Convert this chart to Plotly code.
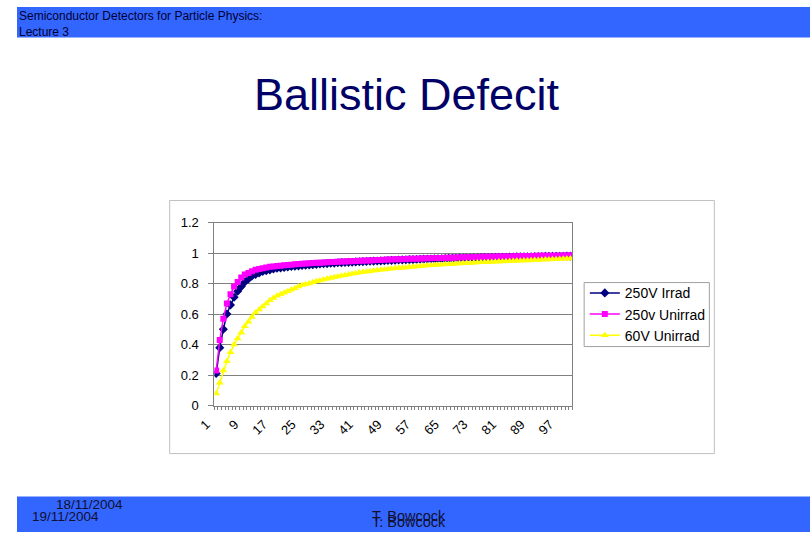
import plotly.graph_objects as go

categories = list(range(1, 101))

irrad_250v = [
    0.21, 0.38, 0.50, 0.60, 0.66, 0.71, 0.75, 0.78, 0.81, 0.83,
    0.85, 0.86, 0.87, 0.88, 0.885, 0.89, 0.895, 0.90, 0.903, 0.906,
    0.909, 0.912, 0.914, 0.916, 0.918, 0.920, 0.922, 0.924, 0.926, 0.928,
    0.930, 0.931, 0.933, 0.934, 0.936, 0.937, 0.938, 0.939, 0.940, 0.942,
    0.943, 0.944, 0.945, 0.946, 0.947, 0.948, 0.949, 0.950, 0.951, 0.952,
    0.953, 0.954, 0.955, 0.956, 0.957, 0.957, 0.958, 0.959, 0.960, 0.961,
    0.961, 0.962, 0.963, 0.963, 0.964, 0.965, 0.965, 0.966, 0.967, 0.967,
    0.968, 0.968, 0.969, 0.969, 0.970, 0.970, 0.971, 0.971, 0.972, 0.972,
    0.973, 0.973, 0.974, 0.974, 0.975, 0.975, 0.975, 0.976, 0.976, 0.977,
    0.977, 0.977, 0.978, 0.978, 0.978, 0.979, 0.979, 0.979, 0.980, 0.980,
]

unirrad_250v = [
    0.23, 0.43, 0.57, 0.67, 0.73, 0.78, 0.81, 0.84, 0.86, 0.87,
    0.88, 0.89, 0.895, 0.90, 0.905, 0.91, 0.912, 0.915, 0.917, 0.92,
    0.922, 0.924, 0.926, 0.928, 0.93, 0.931, 0.933, 0.934, 0.936, 0.937,
    0.938, 0.940, 0.941, 0.942, 0.943, 0.944, 0.945, 0.946, 0.947, 0.948,
    0.949, 0.950, 0.951, 0.952, 0.953, 0.954, 0.955, 0.956, 0.957, 0.958,
    0.959, 0.960, 0.960, 0.961, 0.962, 0.963, 0.963, 0.964, 0.965, 0.966,
    0.966, 0.967, 0.968, 0.968, 0.969, 0.970, 0.970, 0.971, 0.971, 0.972,
    0.972, 0.973, 0.974, 0.974, 0.975, 0.975, 0.976, 0.976, 0.977, 0.977,
    0.978, 0.978, 0.978, 0.979, 0.979, 0.980, 0.980, 0.980, 0.981, 0.981,
    0.982, 0.982, 0.982, 0.983, 0.983, 0.983, 0.984, 0.984, 0.984, 0.985,
]

unirrad_60v = [
    0.08, 0.15, 0.23, 0.29, 0.35, 0.40, 0.44, 0.48, 0.52, 0.55,
    0.58, 0.61, 0.63, 0.65, 0.67, 0.69, 0.705, 0.72, 0.73, 0.74,
    0.75, 0.76, 0.77, 0.78, 0.79, 0.795, 0.80, 0.808, 0.815, 0.82,
    0.826, 0.832, 0.837, 0.842, 0.847, 0.851, 0.855, 0.86, 0.864, 0.868,
    0.872, 0.875, 0.878, 0.881, 0.884, 0.887, 0.89, 0.892, 0.895, 0.897,
    0.90, 0.902, 0.904, 0.906, 0.908, 0.91, 0.912, 0.914, 0.916, 0.918,
    0.92, 0.921, 0.923, 0.924, 0.926, 0.927, 0.929, 0.93, 0.931, 0.933,
    0.934, 0.935, 0.937, 0.938, 0.939, 0.94, 0.941, 0.942, 0.943, 0.944,
    0.945, 0.946, 0.947, 0.948, 0.949, 0.95, 0.951, 0.952, 0.953, 0.954,
    0.955, 0.956, 0.957, 0.958, 0.959, 0.96, 0.961, 0.962, 0.963, 0.964,
]

x_tick_labels = [str(v) for v in range(1, 101, 8)]
y_tick_values = [0, 0.2, 0.4, 0.6, 0.8, 1.0, 1.2]
y_tick_labels = ["0", "0.2", "0.4", "0.6", "0.8", "1", "1.2"]

W, H = 810, 540
FONT = "Arial, Liberation Sans, sans-serif"

# slide positions are given in reference pixels and mapped to the figure
def px(x):
    d = (x - 12.4) / 0.985
    return min(max(d, 0), W) / W

def py(y):
    d = (y - 6.5) / 0.972
    return 1 - min(max(d, 0), H) / H

fig = go.Figure()
fig.add_trace(go.Scatter(
    x=categories, y=irrad_250v, name="250V Irrad", mode="lines+markers",
    line=dict(color="#000080", width=1.5),
    marker=dict(symbol="diamond", size=7, color="#000080"),
))
fig.add_trace(go.Scatter(
    x=categories, y=unirrad_250v, name="250v Unirrad", mode="lines+markers",
    line=dict(color="#FF00FF", width=1.5),
    marker=dict(symbol="square", size=6, color="#FF00FF"),
))
fig.add_trace(go.Scatter(
    x=categories, y=unirrad_60v, name="60V Unirrad", mode="lines+markers",
    line=dict(color="#FFFF00", width=1.5),
    marker=dict(symbol="triangle-up", size=7, color="#FFFF00"),
))

blue = "#3366FF"
shapes = [
    dict(type="rect", xref="paper", yref="paper", x0=0, x1=1, y0=py(37), y1=1,
         fillcolor=blue, line=dict(width=0), layer="below"),
    dict(type="rect", xref="paper", yref="paper", x0=0, x1=1, y0=0, y1=py(496),
         fillcolor=blue, line=dict(width=0), layer="below"),
    dict(type="rect", xref="paper", yref="paper", x0=px(166), x1=px(714),
         y0=py(453), y1=py(200), fillcolor="white",
         line=dict(color="#BFBFBF", width=1), layer="below"),
    dict(type="rect", xref="paper", yref="paper", x0=px(583), x1=px(709),
         y0=py(346), y1=py(282), fillcolor="white",
         line=dict(color="#A0A0A0", width=1), layer="below"),
]

annotations = [
    dict(text="Semiconductor Detectors for Particle Physics:<br>Lecture 3",
         x=0, y=1, xref="paper", yref="paper", xanchor="left", yanchor="top",
         showarrow=False, align="left", font=dict(family=FONT, size=12, color="#000033")),
    dict(text="Ballistic Defecit", x=px(405), y=py(94), xref="paper", yref="paper",
         xanchor="center", yanchor="middle", showarrow=False,
         font=dict(family=FONT, size=45, color="#000066")),
    dict(text="18/11/2004", x=px(50), y=py(504), xref="paper", yref="paper",
         xanchor="left", yanchor="middle", showarrow=False,
         font=dict(family=FONT, size=13.5, color="#101030")),
    dict(text="19/11/2004", x=px(25), y=py(516), xref="paper", yref="paper",
         xanchor="left", yanchor="middle", showarrow=False,
         font=dict(family=FONT, size=13.5, color="#101030")),
    dict(text="T. Bowcock", x=px(368), y=py(515), xref="paper", yref="paper",
         xanchor="left", yanchor="middle", showarrow=False,
         font=dict(family=FONT, size=14.5, color="#101030")),
    dict(text="T. Bowcock", x=px(368), y=py(521), xref="paper", yref="paper",
         xanchor="left", yanchor="middle", showarrow=False,
         font=dict(family=FONT, size=14.5, color="#101030")),
]

fig.update_layout(
    width=W, height=H,
    margin=dict(l=0, r=0, t=0, b=0),
    paper_bgcolor="white",
    plot_bgcolor="#C0C0C0",
    shapes=shapes,
    annotations=annotations,
    showlegend=True,
    legend=dict(x=580 / W, y=1 - 278 / H, xanchor="left", yanchor="top",
                bgcolor="rgba(0,0,0,0)", borderwidth=0,
                font=dict(family=FONT, size=14, color="black"),
                tracegroupgap=0, itemwidth=30),
    xaxis=dict(domain=[px(211), px(571)], range=[0.5, 100.5],
               tickmode="array", tickvals=list(range(1, 101, 8)), ticktext=x_tick_labels,
               tickangle=-45, ticks="", ticklabelshift=-10, ticklabelstandoff=5,
               minor=dict(dtick=1, tick0=0.5, ticks="outside", ticklen=3, tickcolor="#808080"),
               showgrid=False, zeroline=False, showline=True, linecolor="#808080",
               mirror=True, tickfont=dict(family=FONT, size=13, color="black")),
    yaxis=dict(domain=[py(405), py(222)], range=[0, 1.2],
               tickmode="array", tickvals=y_tick_values, ticktext=y_tick_labels,
               ticks="outside", ticklen=5, tickcolor="#808080", ticklabelstandoff=7,
               showgrid=True, gridcolor="#808080", gridwidth=1,
               zeroline=False, showline=True, linecolor="#808080", mirror=True,
               tickfont=dict(family=FONT, size=13, color="black")),
)

post = (
    "document.documentElement.style.margin='0';document.documentElement.style.padding='0';"
    "document.documentElement.style.overflow='hidden';"
    "document.body.style.margin='0';document.body.style.padding='0';"
    "document.body.style.overflow='hidden';"
    "var d=document.getElementById('{plot_id}');"
    "d.style.position='fixed';d.style.left='0px';d.style.top='0px';"
)
fig.write_html("out.html", config={"displayModeBar": False}, post_script=post)
